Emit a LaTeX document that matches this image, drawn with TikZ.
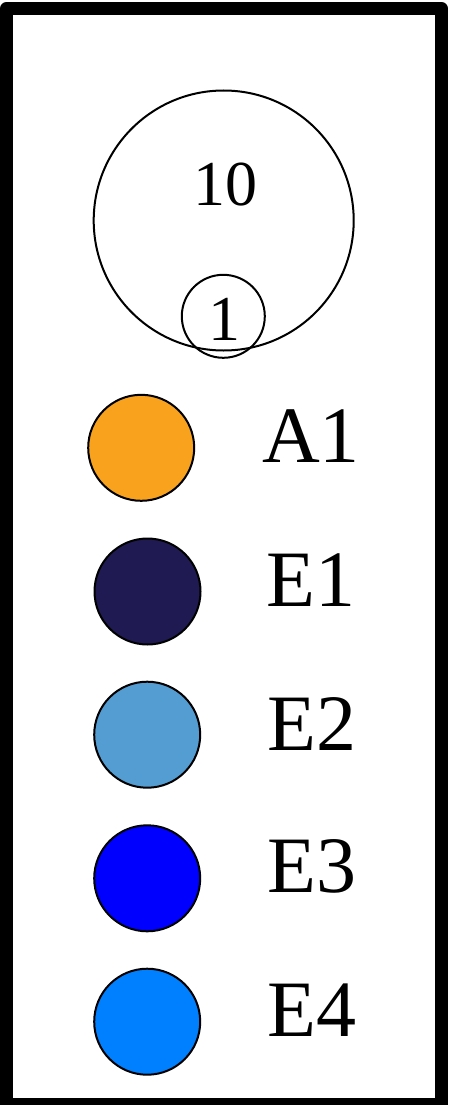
\documentclass[tikz,border=0pt]{standalone}
\usepackage{fontspec}
\setmainfont{Liberation Serif}
\definecolor{cA}{RGB}{249,162,30}
\definecolor{cE1}{RGB}{31,26,82}
\definecolor{cE2}{RGB}{83,157,211}
\definecolor{cE3}{RGB}{0,0,255}
\definecolor{cE4}{RGB}{0,128,255}
\tikzset{
  ring/.style={circle, draw=black, line width=2pt, inner sep=0pt},
  dot/.style={circle, draw=black, line width=2pt, inner sep=0pt, minimum size=106pt},
  lab/.style={anchor=base, inner sep=0pt, font=\fontsize{80}{80}\selectfont},
  num/.style={inner sep=0pt, font=\fontsize{64}{64}\selectfont}
}
\begin{document}
\begin{tikzpicture}[x=1pt,y=-1pt]
\useasboundingbox (0,0) rectangle (454,1105);
\draw[line width=13pt, line join=round] (6.5,8.5) rectangle (441.5,1104.5);
\node[ring, minimum size=260pt] (big) at (223.7,220.5) {};
\node[ring, minimum size=83pt] (small) at (223.3,316.3) {};
\node[num] (t10) at (225,185) {10};
\node[num] (t1) at (224,319) {1};
\node[dot, fill=cA] (dA) at (141.2,447.8) {};
\node[dot, fill=cE1] (d1) at (147.5,591.5) {};
\node[dot, fill=cE2] (d2) at (147.2,734.7) {};
\node[dot, fill=cE3] (d3) at (147.2,878.3) {};
\node[dot, fill=cE4] (d4) at (147.2,1021.7) {};
\node[lab] (lA) at (311,462.7) {A1};
\node[lab] (l1) at (311,606.7) {E1};
\node[lab] (l2) at (312,750) {E2};
\node[lab] (l3) at (312,892.7) {E3};
\node[lab] (l4) at (312,1036) {E4};
\end{tikzpicture}
\end{document}
